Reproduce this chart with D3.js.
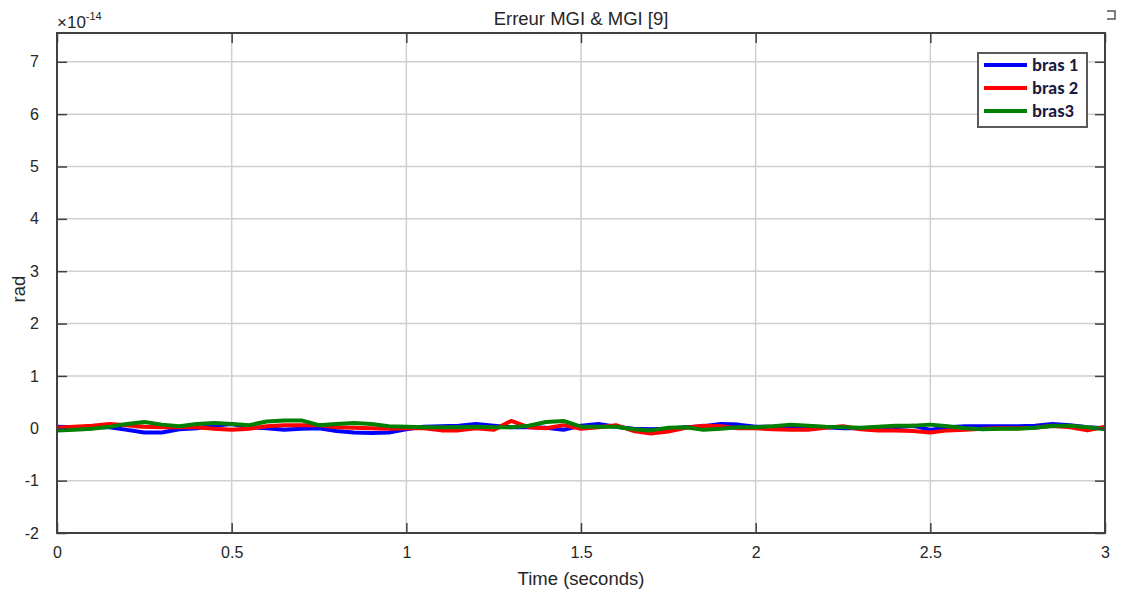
<!DOCTYPE html>
<html>
<head>
<meta charset="utf-8">
<script src="https://cdn.jsdelivr.net/npm/d3@7"></script>
<style>
  html, body { margin: 0; padding: 0; background: #fff; }
  svg { display: block; font-family: "Liberation Sans", Arial, sans-serif; }
</style>
</head>
<body>
<svg id="chart" width="1121" height="593"></svg>
<script>
// Time samples (s)
const time = d3.range(0, 61).map(i => +(i * 0.05).toFixed(2));

// Error per arm, in units of 1e-14 rad
const bras1 = [0.03,0.02,0.02,0.02,-0.03,-0.08,-0.08,-0.02,0.00,0.05,
               0.08,0.02,0.00,-0.03,-0.01,0.00,-0.05,-0.08,-0.09,-0.08,
               -0.02,0.03,0.04,0.05,0.08,0.05,0.02,0.02,0.01,-0.03,
               0.05,0.08,0.03,-0.01,-0.02,-0.01,0.02,0.04,0.08,0.07,
               0.03,0.03,0.02,0.03,0.02,0.00,0.00,0.01,0.02,0.05,
               -0.03,0.02,0.04,0.04,0.04,0.04,0.05,0.08,0.06,0.02,0.00];
const bras2 = [0.01,0.03,0.05,0.08,0.06,0.03,0.02,0.02,0.02,-0.01,
               -0.03,-0.01,0.04,0.06,0.06,0.06,0.02,0.01,0.00,-0.01,
               0.00,0.00,-0.04,-0.04,0.00,-0.03,0.14,0.02,0.00,0.06,
               -0.01,0.02,0.06,-0.05,-0.10,-0.06,0.01,0.05,0.04,0.00,
               0.00,-0.02,-0.03,-0.03,0.01,0.04,-0.02,-0.04,-0.04,-0.05,
               -0.08,-0.04,-0.03,-0.01,0.00,0.00,0.01,0.05,0.02,-0.04,0.03];
const bras3 = [-0.04,-0.03,-0.01,0.03,0.08,0.12,0.07,0.04,0.08,0.10,
               0.08,0.06,0.13,0.15,0.15,0.06,0.08,0.10,0.08,0.04,
               0.03,0.02,0.02,0.02,0.03,0.02,0.02,0.05,0.12,0.14,
               0.03,0.03,0.03,-0.02,-0.04,0.01,0.02,-0.03,-0.01,0.02,
               0.02,0.04,0.07,0.05,0.03,0.02,0.01,0.03,0.05,0.05,
               0.07,0.04,0.00,-0.02,-0.01,-0.01,0.01,0.05,0.05,0.02,-0.02];

const seriesNames = ["bras 1", "bras 2", "bras3"];
const seriesColors = ["#0000ff", "#ff0000", "#008000"];
const xTicks = [0, 0.5, 1, 1.5, 2, 2.5, 3];
const yTicks = [-2, -1, 0, 1, 2, 3, 4, 5, 6, 7];

const svg = d3.select("#chart");
const plotLeft = 57, plotRight = 1105, plotTop = 33, plotBottom = 533;

const x = d3.scaleLinear().domain([0, 3]).range([plotLeft, plotRight]);
const y = d3.scaleLinear().domain([-2, 7.55]).range([plotBottom, plotTop]);

const axisColor = "#404040";
const gridColor = "#cfcfcf";
const textColor = "#262626";

// Grid
const grid = svg.append("g");
grid.selectAll(".gx").data(xTicks).join("line")
  .attr("x1", d => x(d)).attr("x2", d => x(d))
  .attr("y1", plotTop).attr("y2", plotBottom)
  .attr("stroke", gridColor).attr("stroke-width", 1.5);
grid.selectAll(".gy").data(yTicks).join("line")
  .attr("x1", plotLeft).attr("x2", plotRight)
  .attr("y1", d => y(d)).attr("y2", d => y(d))
  .attr("stroke", gridColor).attr("stroke-width", 1.5);

// Data lines
const seriesData = [bras1, bras2, bras3];
const line = d3.line().x((d, i) => x(time[i])).y(d => y(d));
svg.append("g").selectAll("path").data(seriesData).join("path")
  .attr("d", d => line(d))
  .attr("fill", "none")
  .attr("stroke", (d, i) => seriesColors[i])
  .attr("stroke-width", 4)
  .attr("stroke-linejoin", "round");

// Axes (ticks inside, MATLAB-style box)
const tickLen = 10;
const bottomAxis = svg.append("g").attr("transform", `translate(0,${plotBottom})`)
  .call(d3.axisBottom(x).tickValues(xTicks).tickSize(-tickLen).tickPadding(tickLen + 4)
    .tickFormat(d => String(d)));
const leftAxis = svg.append("g").attr("transform", `translate(${plotLeft},0)`)
  .call(d3.axisLeft(y).tickValues(yTicks).tickSize(-tickLen).tickPadding(tickLen + 8)
    .tickFormat(d => String(d)));
const topAxis = svg.append("g").attr("transform", `translate(0,${plotTop})`)
  .call(d3.axisTop(x).tickValues(xTicks).tickSize(-tickLen).tickFormat(""));
const rightAxis = svg.append("g").attr("transform", `translate(${plotRight},0)`)
  .call(d3.axisRight(y).tickValues(yTicks).tickSize(-tickLen).tickFormat(""));

[bottomAxis, leftAxis, topAxis, rightAxis].forEach(a => {
  a.select(".domain").remove();
  a.selectAll(".tick line").attr("stroke", axisColor).attr("stroke-width", 1.5);
  a.selectAll("text").attr("fill", textColor).attr("font-size", 16)
    .attr("font-family", "'Liberation Sans', Arial, sans-serif");
});

svg.append("rect")
  .attr("x", plotLeft).attr("y", plotTop)
  .attr("width", plotRight - plotLeft).attr("height", plotBottom - plotTop)
  .attr("fill", "none").attr("stroke", axisColor).attr("stroke-width", 2);

// Exponent label
const expo = svg.append("text").attr("x", plotLeft).attr("y", 28)
  .attr("fill", textColor).attr("font-size", 17);
expo.append("tspan").text("×10");
expo.append("tspan").attr("dy", -8).attr("font-size", 11).text("-14");

// Title and axis labels
svg.append("text").attr("x", (plotLeft + plotRight) / 2).attr("y", 25)
  .attr("text-anchor", "middle").attr("fill", textColor).attr("font-size", 18.5)
  .text("Erreur MGI & MGI [9]");
svg.append("text").attr("x", (plotLeft + plotRight) / 2).attr("y", 585)
  .attr("text-anchor", "middle").attr("fill", textColor).attr("font-size", 18.5)
  .text("Time (seconds)");
svg.append("text")
  .attr("transform", `translate(25,${(plotTop + plotBottom) / 2 + 6}) rotate(-90)`)
  .attr("text-anchor", "middle").attr("fill", textColor).attr("font-size", 18.5)
  .text("rad");

// Legend
const legend = svg.append("g").attr("transform", "translate(978,53)");
legend.append("rect").attr("width", 109).attr("height", 74)
  .attr("fill", "#fff").attr("stroke", "#5a5a5a").attr("stroke-width", 2);
const items = legend.selectAll(".item").data(seriesNames).join("g")
  .attr("transform", (d, i) => `translate(0,${12 + i * 23})`);
items.append("line").attr("x1", 6).attr("x2", 49).attr("y1", 0).attr("y2", 0)
  .attr("stroke", (d, i) => seriesColors[i]).attr("stroke-width", 4);
items.append("text").attr("x", 54).attr("y", 0).attr("dy", "0.35em")
  .attr("font-family", "Carlito, 'Open Sans', sans-serif")
  .attr("font-weight", "bold").attr("font-size", 18.5)
  .attr("fill", "#1a1a40").text(d => d);

// Small figure-window icon in the corner
svg.append("path")
  .attr("d", "M1107,11 L1115,11 L1115,19 L1107,19")
  .attr("fill", "none").attr("stroke", "#555").attr("stroke-width", 1.5);
</script>
</body>
</html>
